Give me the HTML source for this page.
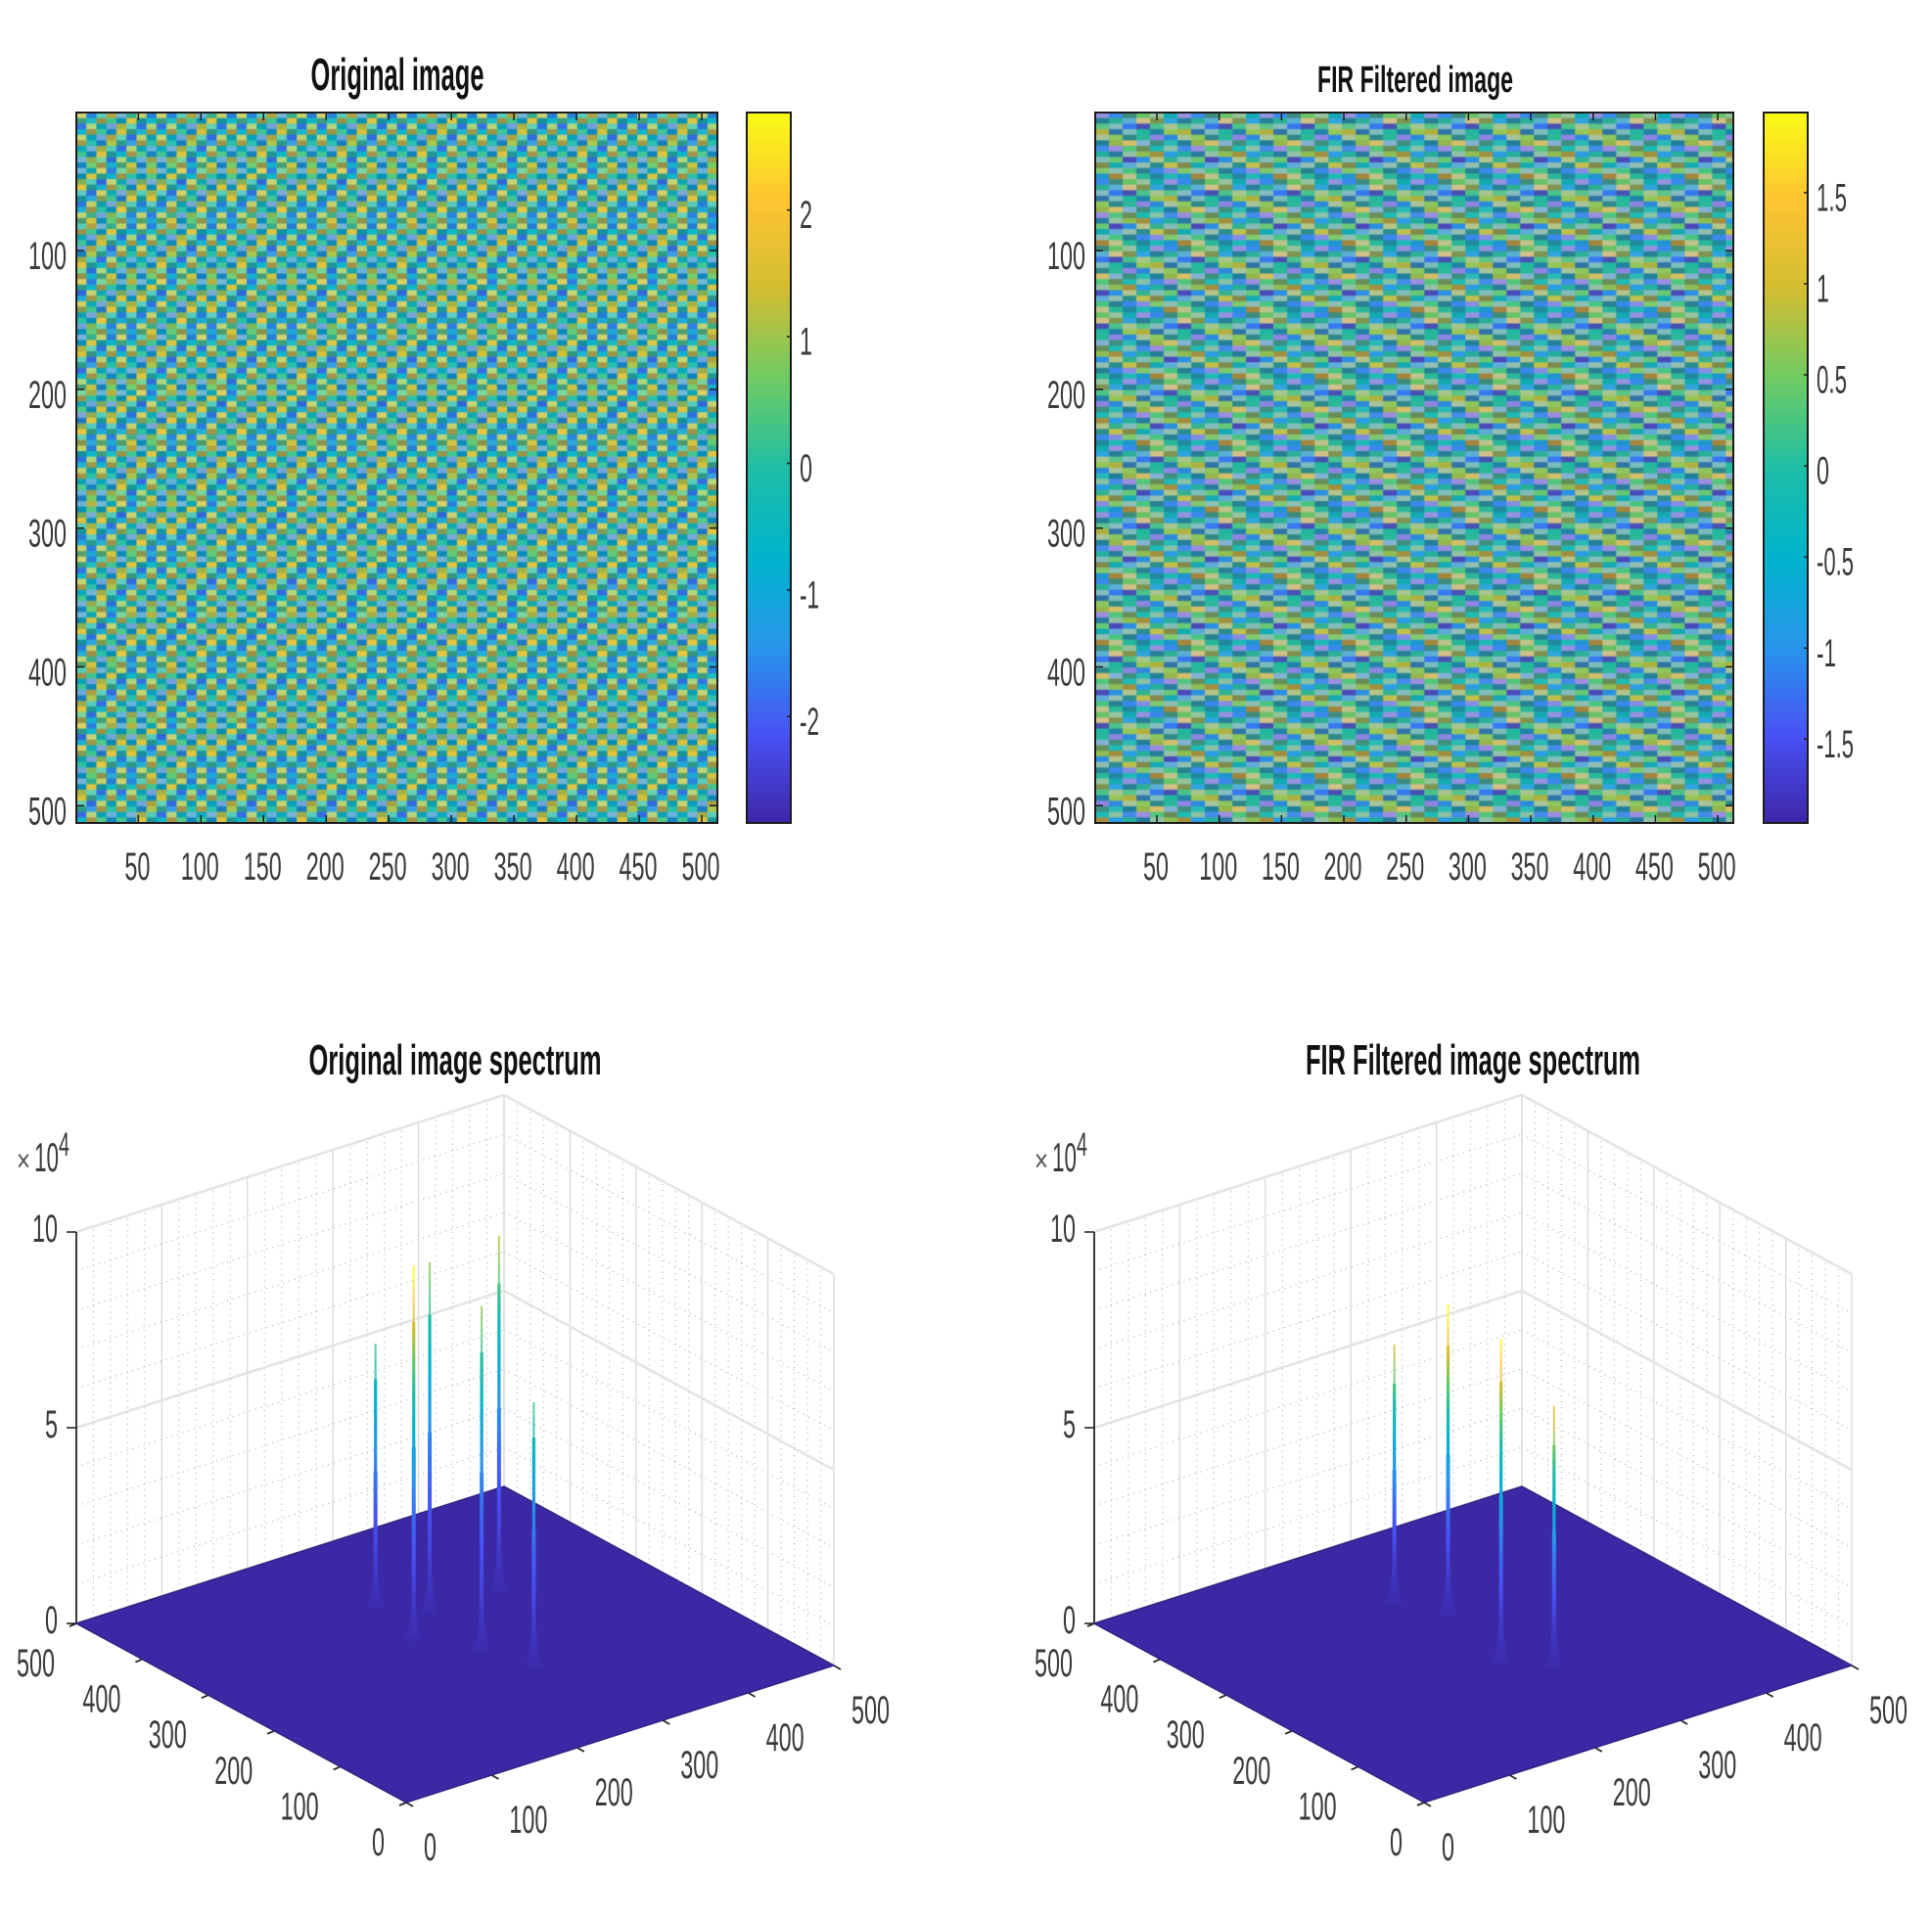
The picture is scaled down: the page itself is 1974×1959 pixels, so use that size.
<!DOCTYPE html>
<html lang="en">
<head>
<meta charset="utf-8">
<title>Original and FIR filtered image with spectra</title>
<style>
html,body{margin:0;padding:0;background:#fff;}
svg{display:block;}
text{font-family:"Liberation Sans",sans-serif;}
</style>
</head>
<body>
<svg id="figure" xmlns="http://www.w3.org/2000/svg" width="1974" height="1959" viewBox="0 0 1974 1959">
  <rect width="1974" height="1959" fill="#ffffff"/>
  <defs>
    <clipPath id="clip-left"><rect x="78" y="115" width="655" height="726"/></clipPath>
    <clipPath id="clip-right"><rect x="1119" y="115" width="652" height="726"/></clipPath>
  </defs>
  <text x="406" y="92" text-anchor="middle" font-size="46" font-weight="700" fill="#111" textLength="177" lengthAdjust="spacingAndGlyphs">Original image</text>
  <text x="1446" y="94" text-anchor="middle" font-size="38" font-weight="700" fill="#111" textLength="200" lengthAdjust="spacingAndGlyphs">FIR Filtered image</text>
  <text x="465" y="1098" text-anchor="middle" font-size="44" font-weight="700" fill="#111" textLength="299" lengthAdjust="spacingAndGlyphs">Original image spectrum</text>
  <text x="1505" y="1098" text-anchor="middle" font-size="44" font-weight="700" fill="#111" textLength="342" lengthAdjust="spacingAndGlyphs">FIR Filtered image spectrum</text>
</svg>
<script>
// ---- chart data ----
const originalPatternValues = [
  [ 1.3,-1.5,-0.4, 1.5,-1.6, 0.2, 1.2,-1.5],
  [ 0.4,-0.6, 1.5, 0.2,-0.8, 1.6,-0.2,-0.7],
  [-1.7, 1.0,-0.5,-1.8, 1.2,-0.3,-1.7, 0.9],
  [-0.8, 1.6, 0.1,-1.0, 1.4, 0.3,-0.9, 1.5],
  [ 1.2,-0.7,-1.7, 1.4,-0.4,-1.8, 1.1,-0.5],
  [ 1.6,-0.2,-1.2, 1.1, 0.2,-1.4, 1.7,-0.1],
  [-0.6,-1.6, 1.2,-0.4,-1.8, 1.0,-0.5,-1.5],
  [ 0.2,-1.0, 1.6, 0.0,-0.7, 1.8, 0.3,-1.1],
  [-1.6, 1.1, 0.3,-1.7, 0.9,-0.2,-1.5, 1.2],
  [-1.1, 0.6, 1.4,-0.9, 0.5, 1.3,-1.2, 0.7]
];
const filteredPatternValues = [
  [-1.3,-1.1, 0.1, 0.45, 0.3,-0.3],
  [-0.4, 0.05,-0.7, 0.8, 0.65,-0.8],
  [ 0.25,-0.2,-1.2,-1.3, 0.2, 0.5],
  [ 0.85,-0.8,-0.1, 0.0,-0.6, 0.65],
  [ 0.4, 0.6,-0.1, 0.05,-1.4,-1.0],
  [-0.5, 0.7, 0.9,-0.7, 0.1,-0.2],
  [-1.1,-1.4, 0.3, 0.5,-0.2, 0.2],
  [ 0.0,-0.6, 0.2, 0.65, 0.9,-0.9],
  [-0.1, 0.4,-1.4,-1.0, 0.6, 0.1],
  [ 0.7,-0.3,-0.8, 0.1,-0.1, 0.85],
  [ 0.5, 0.05, 0.25,-0.3,-1.1,-1.3],
  [-0.8, 1.0, 0.65, 0.05,-0.4,-0.2]
];
const originalLumaValues = [
  [ 0.42,-0.15, 0.36,-0.20],
  [-0.28, 0.10,-0.32, 0.05],
  [-0.10, 0.42,-0.15, 0.36],
  [ 0.05,-0.32, 0.10,-0.28]
];
const filteredLumaValues = [
  [ 0.48, 0.05,-0.35,-0.05, 0.42,-0.10],
  [-0.38,-0.10, 0.32, 0.50,-0.32, 0.10],
  [ 0.10, 0.50, 0.00,-0.38, 0.05, 0.40],
  [-0.10,-0.38, 0.45,-0.05,-0.32, 0.05]
];
const imageTicksX = [50,100,150,200,250,300,350,400,450,500];
const imageTicksY = [100,200,300,400,500];
const originalColorbarTicks = [-2,-1,0,1,2];
const filteredColorbarTicks = [-1.5,-1,-0.5,0,0.5,1,1.5];
const spectrumTicks = [0,100,200,300,400,500];
const spectrumMinorTicks = [20,40,60,80,120,140,160,180,220,240,260,280,320,340,360,380,420,440,460,480];
const zTicks = [0,5,10];
const zMinorTicks = [1,2,3,4,6,7,8,9];
const originalSpikeX = [241,224,272,261,353,278];
const originalSpikeY = [359,279,317,224,317,167];
const originalSpikeZ = [6.75,9.6,9.0,8.8,9.1,6.75];
const originalSpikePeak = [0.5,1.0,0.62,0.62,0.68,0.5];
const filteredSpikeX = [246,271,245,280];
const filteredSpikeY = [364,315,201,166];
const filteredSpikeZ = [6.65,7.95,8.3,6.65];
const filteredSpikePeak = [0.72,1.0,0.95,0.8];

// ---- helpers ----
const svg = document.getElementById('figure');
const NS = 'http://www.w3.org/2000/svg';
const parulaColors = [[62,38,168],[72,82,244],[39,150,235],[1,180,204],[30,190,165],[110,203,100],[210,190,50],[253,195,50],[249,251,21]];
function parulaRgb(t){
  t = Math.max(0, Math.min(1, t)) * (parulaColors.length - 1);
  const i = Math.min(parulaColors.length - 2, Math.floor(t));
  const f = t - i;
  const a = parulaColors[i], b = parulaColors[i + 1];
  return [0,1,2].map(k => a[k] + (b[k] - a[k]) * f);
}
function css(c){ return 'rgb(' + c.map(Math.round).join(',') + ')'; }
function parula(t){ return css(parulaRgb(t)); }
function shade(c, luma, light, dark){
  const target = luma >= 0 ? light : dark;
  const m = Math.abs(luma);
  return c.map((v, k) => v + (target[k] - v) * m);
}
function make(tag, parent, attrs){
  const el = document.createElementNS(NS, tag);
  for (const k in attrs) el.setAttribute(k, attrs[k]);
  parent.appendChild(el);
  return el;
}
function labelWidth(s){
  let w = 0;
  for (const ch of s) w += ch === '.' ? 5 : ch === '-' ? 7 : 13;
  return w;
}
function label(parent, x, y, s, anchor){
  const t = make('text', parent, {x:x, y:y, 'text-anchor':anchor, 'font-size':40, fill:'#3a3a3a', textLength:labelWidth(s), lengthAdjust:'spacingAndGlyphs'});
  
  
  t.textContent = s;
  return t;
}
function line(parent, x1, y1, x2, y2, stroke, width, dash){
  const l = make('line', parent, {x1:x1, y1:y1, x2:x2, y2:y2, stroke:stroke, 'stroke-width':width});
  if (dash) l.setAttribute('stroke-dasharray', dash);
  
  
  return l;
}

// ---- image panels ----
function drawImagePanel(name, left, right, clipId, values, lumaValues, light, dark, cellStepX, clim, cbLeft, cbRight, cbTicks){
  const top = 115, bottom = 841;
  const xScale = v => left + (v - 0.5) / 512 * (right - left);
  const yScale = v => top + (v - 0.5) / 512 * (bottom - top);
  const panel = make('g', svg, {});
  
  
  const clipped = make('g', panel, {'clip-path':'url(#' + clipId + ')'});
  const cells = make('g', clipped, {style:'filter:blur(0.5px)'});
  
  
  const rows = values.length, cols = values[0].length, cellStepY = 4;
  const lumaRows = lumaValues.length, lumaCols = lumaValues[0].length;
  let r = 0;
  for (let yv = 0.5; yv < 512.5; yv += cellStepY, r++){
    const shift = Math.floor(r / rows);
    let c = 0;
    for (let xv = 0.5; xv < 512.5; xv += cellStepX, c++){
      const value = values[r % rows][(c + shift) % cols];
      const luma = lumaValues[r % lumaRows][(c + shift) % lumaCols];
      const base = parulaRgb((value - clim[0]) / (clim[1] - clim[0]));
      const cell = make('rect', cells, {x:xScale(xv).toFixed(2), y:yScale(yv).toFixed(2), width:(xScale(xv + cellStepX) - xScale(xv) + 0.3).toFixed(2), height:(yScale(yv + cellStepY) - yScale(yv) + 0.3).toFixed(2), fill:css(shade(base, luma, light, dark))});
      
      
    }
  }
  const box = make('rect', panel, {x:left, y:top, width:right - left, height:bottom - top, fill:'none', stroke:'#1c1c1c', 'stroke-width':2});
  
  
  imageTicksX.forEach(v => {
    const x = xScale(v);
    line(panel, x, top, x, top + 8, '#1c1c1c', 1.5);
    line(panel, x, bottom, x, bottom - 8, '#1c1c1c', 1.5);
    label(panel, x - 1, 899, String(v), 'middle');
  });
  imageTicksY.forEach(v => {
    const y = yScale(v);
    line(panel, left, y, left + 8, y, '#1c1c1c', 1.5);
    line(panel, right, y, right - 8, y, '#1c1c1c', 1.5);
    label(panel, left - 10, y + 19, String(v), 'end');
  });
  // colorbar
  const cbY = v => bottom - (v - clim[0]) / (clim[1] - clim[0]) * (bottom - top);
  const bar = make('g', panel, {});
  
  
  for (let i = 0; i < 128; i++){
    const v0 = clim[0] + (clim[1] - clim[0]) * i / 128;
    const v1 = clim[0] + (clim[1] - clim[0]) * (i + 1) / 128;
    const strip = make('rect', bar, {x:cbLeft, y:cbY(v1), width:cbRight - cbLeft, height:cbY(v0) - cbY(v1) + 0.5, fill:parula((i + 0.5) / 128)});
    
    
  }
  const cbBox = make('rect', panel, {x:cbLeft, y:top, width:cbRight - cbLeft, height:bottom - top, fill:'none', stroke:'#1c1c1c', 'stroke-width':2});
  
  
  cbTicks.forEach(v => {
    const y = cbY(v);
    line(panel, cbRight, y, cbRight - 4, y, '#1c1c1c', 1.5);
    label(panel, cbRight + 9, y + 18.5, String(v), 'start');
  });
}

// ---- spectrum panels ----
function drawSpectrumPanel(name, dx, spikeX, spikeY, spikeZ, spikePeak){
  const front = [415 + dx, 1842], xEnd = [852 + dx, 1702], yEnd = [78 + dx, 1659];
  const zUnit = 40;
  const project = (x, y, z) => [
    front[0] + x / 500 * (xEnd[0] - front[0]) + y / 500 * (yEnd[0] - front[0]),
    front[1] + x / 500 * (xEnd[1] - front[1]) + y / 500 * (yEnd[1] - front[1]) - z * zUnit
  ];
  const panel = make('g', svg, {});
  
  
  const seg = (a, b, color, w, dash) => line(panel, a[0], a[1], b[0], b[1], color, w, dash);
  // minor grid
  spectrumMinorTicks.forEach(v => {
    seg(project(v, 500, 0), project(v, 500, 10), '#b0b0b0', 1.2, '1 5');
    seg(project(500, v, 0), project(500, v, 10), '#b0b0b0', 1.2, '1 5');
  });
  zMinorTicks.forEach(z => {
    seg(project(0, 500, z), project(500, 500, z), '#b0b0b0', 1.2, '1 5');
    seg(project(500, 500, z), project(500, 0, z), '#b0b0b0', 1.2, '1 5');
  });
  // major grid
  spectrumTicks.forEach(v => {
    seg(project(v, 500, 0), project(v, 500, 10), '#d6d6d6', 1.2);
    seg(project(500, v, 0), project(500, v, 10), '#d6d6d6', 1.2);
  });
  zTicks.forEach(z => {
    seg(project(0, 500, z), project(500, 500, z), '#e4e4e4', 2.6);
    seg(project(500, 500, z), project(500, 0, z), '#e4e4e4', 2.6);
  });
  // z axis
  seg(project(0, 500, 0), project(0, 500, 10), '#262626', 1.8);
  zTicks.forEach(z => {
    const p = project(0, 500, z);
    seg(p, [p[0] - 10, p[1]], '#262626', 1.6);
    label(panel, p[0] - 19, p[1] + 10, String(z), 'end');
  });
  // exponent
  const ex = make('g', panel, {});
  
  
  const times = make('text', ex, {x:17 + dx, y:1197, 'font-size':32, fill:'#555', textLength:14, lengthAdjust:'spacingAndGlyphs'});
  times.textContent = '\u00d7';
  const ten = make('text', ex, {x:35 + dx, y:1197, 'font-size':42, fill:'#3a3a3a', textLength:25, lengthAdjust:'spacingAndGlyphs'});
  ten.textContent = '10';
  const four = make('text', ex, {x:60 + dx, y:1181, 'font-size':34, fill:'#3a3a3a', textLength:11, lengthAdjust:'spacingAndGlyphs'});
  four.textContent = '4';
  // ground axes ticks and labels
  spectrumTicks.forEach(v => {
    const a = project(v, 0, 0);
    seg(a, [a[0] + 7, a[1] + 4], '#262626', 1.8);
    label(panel, a[0] + 18, a[1] + 59, String(v), 'start');
    const b = project(0, v, 0);
    seg(b, [b[0] - 7, b[1] + 3], '#262626', 1.8);
    label(panel, b[0] - 22, b[1] + 54, String(v), 'end');
  });
  // floor surface
  const corners = [project(0,0,0), project(500,0,0), project(500,500,0), project(0,500,0)];
  const floor = make('polygon', panel, {points:corners.map(p => p[0].toFixed(1) + ',' + p[1].toFixed(1)).join(' '), fill:'#3b28a4', stroke:'#2f2480', 'stroke-width':1.5});
  
  
  // spikes
  spikeX.forEach((sx, i) => {
    const sz = spikeZ[i];
    const spike = make('g', panel, {});
    
    
    const steps = 60;
    for (let k = 0; k < steps; k++){
      const z0 = sz * k / steps, z1 = sz * (k + 1) / steps;
      const a = project(sx, spikeY[i], z0), b = project(sx, spikeY[i], z1);
      const frac = z0 / sz;
      const core = frac > 0.85 ? 1.0 : frac > 0.5 ? 1.6 : 2.0;
      const halfW = core + 7 * Math.exp(-z0 / 0.32);
      const t = 0.07 + spikePeak[i] * frac * frac;
      const piece = make('rect', spike, {x:a[0] - halfW, y:b[1], width:halfW * 2, height:a[1] - b[1] + 0.4, fill:parula(t), opacity:Math.min(frac > 0.85 ? 0.8 : 1, 0.18 + z0 * 0.5)});
      
      
    }
  });
}

drawImagePanel('original-image', 78, 733, 'clip-left', originalPatternValues, originalLumaValues, [215,240,185], [15,50,120], 8, [-2.84, 2.77], 763, 808, originalColorbarTicks);
drawImagePanel('fir-filtered-image', 1119, 1771, 'clip-right', filteredPatternValues, filteredLumaValues, [245,190,205], [85,40,75], 11, [-1.96, 1.94], 1802, 1847, filteredColorbarTicks);
drawSpectrumPanel('original-spectrum', 0, originalSpikeX, originalSpikeY, originalSpikeZ, originalSpikePeak);
drawSpectrumPanel('fir-spectrum', 1040, filteredSpikeX, filteredSpikeY, filteredSpikeZ, filteredSpikePeak);
</script>
</body>
</html>
